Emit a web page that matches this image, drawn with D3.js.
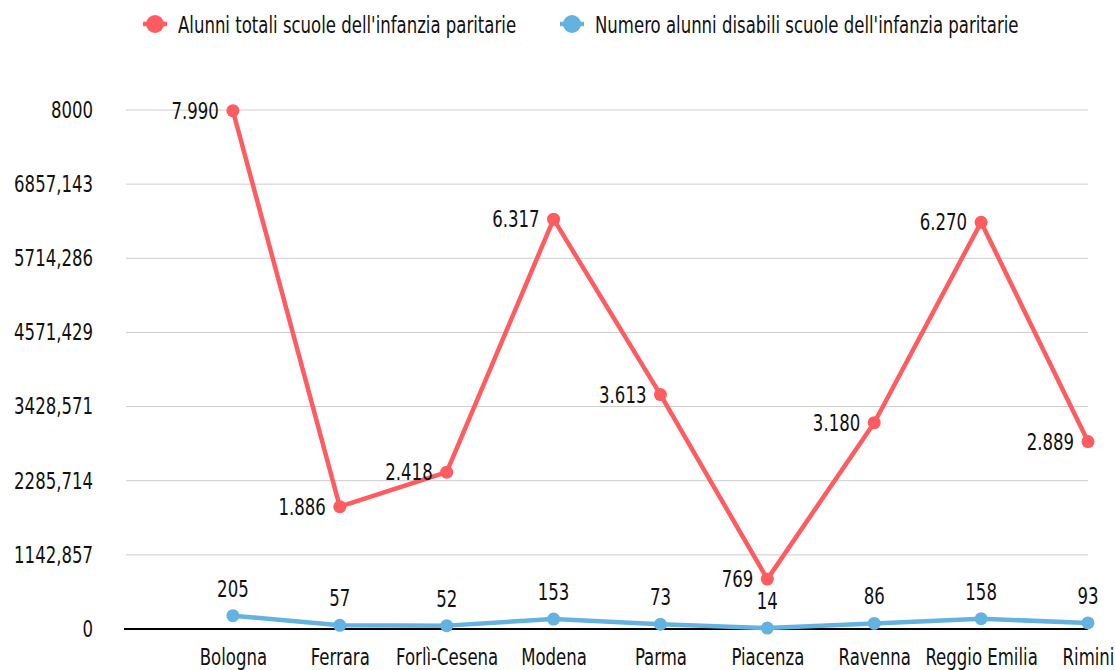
<!DOCTYPE html>
<html>
<head>
<meta charset="utf-8">
<script src="https://cdn.jsdelivr.net/npm/d3@7"></script>
<style>
  html, body { margin: 0; padding: 0; background: #fff; }
  svg { display: block; }
  text { font-family: "DejaVu Sans Condensed", "DejaVu Sans", sans-serif; fill: #111; }
</style>
</head>
<body>
<svg id="chart" width="1115" height="670"></svg>
<script>
const categories = ["Bologna", "Ferrara", "Forlì-Cesena", "Modena", "Parma", "Piacenza", "Ravenna", "Reggio Emilia", "Rimini"];
const alunniTotali = [7990, 1886, 2418, 6317, 3613, 769, 3180, 6270, 2889];
const alunniDisabili = [205, 57, 52, 153, 73, 14, 86, 158, 93];
const seriesNames = ["Alunni totali scuole dell'infanzia paritarie", "Numero alunni disabili scuole dell'infanzia paritarie"];
const yTicks = [0, 8000/7, 16000/7, 24000/7, 32000/7, 40000/7, 48000/7, 8000];

(function () {
const colors = ["#ff5c61", "#63b2e0"];
const FS = "23px", SX = 0.8;
const svg = d3.select("#chart");
const mLeft = 126, mRight = 1088, mTop = 110, mBottom = 629;

const x = d3.scaleLinear().domain([0, categories.length]).range([mLeft, mRight]);
const y = d3.scaleLinear().domain([0, 8000]).range([mBottom, mTop]);

const fmtTick = v => {
  const r = Math.round(v * 1000) / 1000;
  return String(r).replace(".", ",");
};
const fmtVal = v => d3.format(",")(v).replace(/,/g, ".");

// gridlines
svg.append("g")
  .selectAll("line").data(yTicks.slice(1)).join("line")
  .attr("x1", mLeft).attr("x2", mRight)
  .attr("y1", d => y(d)).attr("y2", d => y(d))
  .attr("stroke", "#cccccc").attr("stroke-width", 1);

// y axis labels
const yAxis = d3.axisLeft(y).tickValues(yTicks).tickFormat(fmtTick).tickSize(0).tickPadding(0);
const ya = svg.append("g").attr("transform", `translate(93,0)`).call(yAxis);
ya.select(".domain").remove();
ya.selectAll("text").style("font-size", FS).attr("fill", "#111")
  .style("font-family", "'DejaVu Sans Condensed',sans-serif")
  .attr("transform", `scale(${SX},1)`);

// baseline
svg.append("line").attr("x1", mLeft - 2).attr("x2", mRight).attr("y1", y(0)).attr("y2", y(0))
  .attr("stroke", "#000").attr("stroke-width", 2);

// x labels
const xAxis = d3.axisBottom(x).tickValues(categories.map((c, i) => i + 1))
  .tickFormat(i => categories[i - 1]).tickSize(0).tickPadding(0);
const xa = svg.append("g").attr("transform", `translate(0,${bottomLabelY()})`).call(xAxis);
function bottomLabelY() { return 649; }
xa.select(".domain").remove();
xa.selectAll("text").style("font-size", FS).attr("fill", "#111")
  .style("font-family", "'DejaVu Sans Condensed',sans-serif")
  .attr("transform", `scale(${SX},1)`);

const line = d3.line().x((d, i) => x(i + 1)).y(d => y(d));

[alunniTotali, alunniDisabili].forEach((data, s) => {
  const g = svg.append("g");
  g.append("path").datum(data).attr("d", line)
    .attr("fill", "none").attr("stroke", colors[s]).attr("stroke-width", 4.5)
    .attr("stroke-linejoin", "round");
  g.selectAll("circle").data(data).join("circle")
    .attr("cx", (d, i) => x(i + 1)).attr("cy", d => y(d)).attr("r", 6.5)
    .attr("fill", colors[s]);
  g.selectAll("text").data(data).join("text")
    .attr("transform", (d, i) => {
      const tx = s === 0 ? x(i + 1) - 14 : x(i + 1);
      const ty = s === 0 ? y(d) + 8 : y(d) - 19;
      return `translate(${tx},${ty}) scale(${SX},1)`;
    })
    .attr("text-anchor", s === 0 ? "end" : "middle")
    .style("font-size", FS)
    .text(d => fmtVal(d));
});

// legend
const legendX = [155, 572];
seriesNames.forEach((name, s) => {
  const g = svg.append("g").attr("transform", `translate(${legendX[s]},24)`);
  g.append("line").attr("x1", -12).attr("x2", 12).attr("y1", 0).attr("y2", 0)
    .attr("stroke", colors[s]).attr("stroke-width", 4.5);
  g.append("circle").attr("r", 9).attr("fill", colors[s]);
  g.append("text").attr("transform", `translate(23,9) scale(${SX},1)`)
    .style("font-size", FS).text(name);
});
})();
</script>
</body>
</html>
